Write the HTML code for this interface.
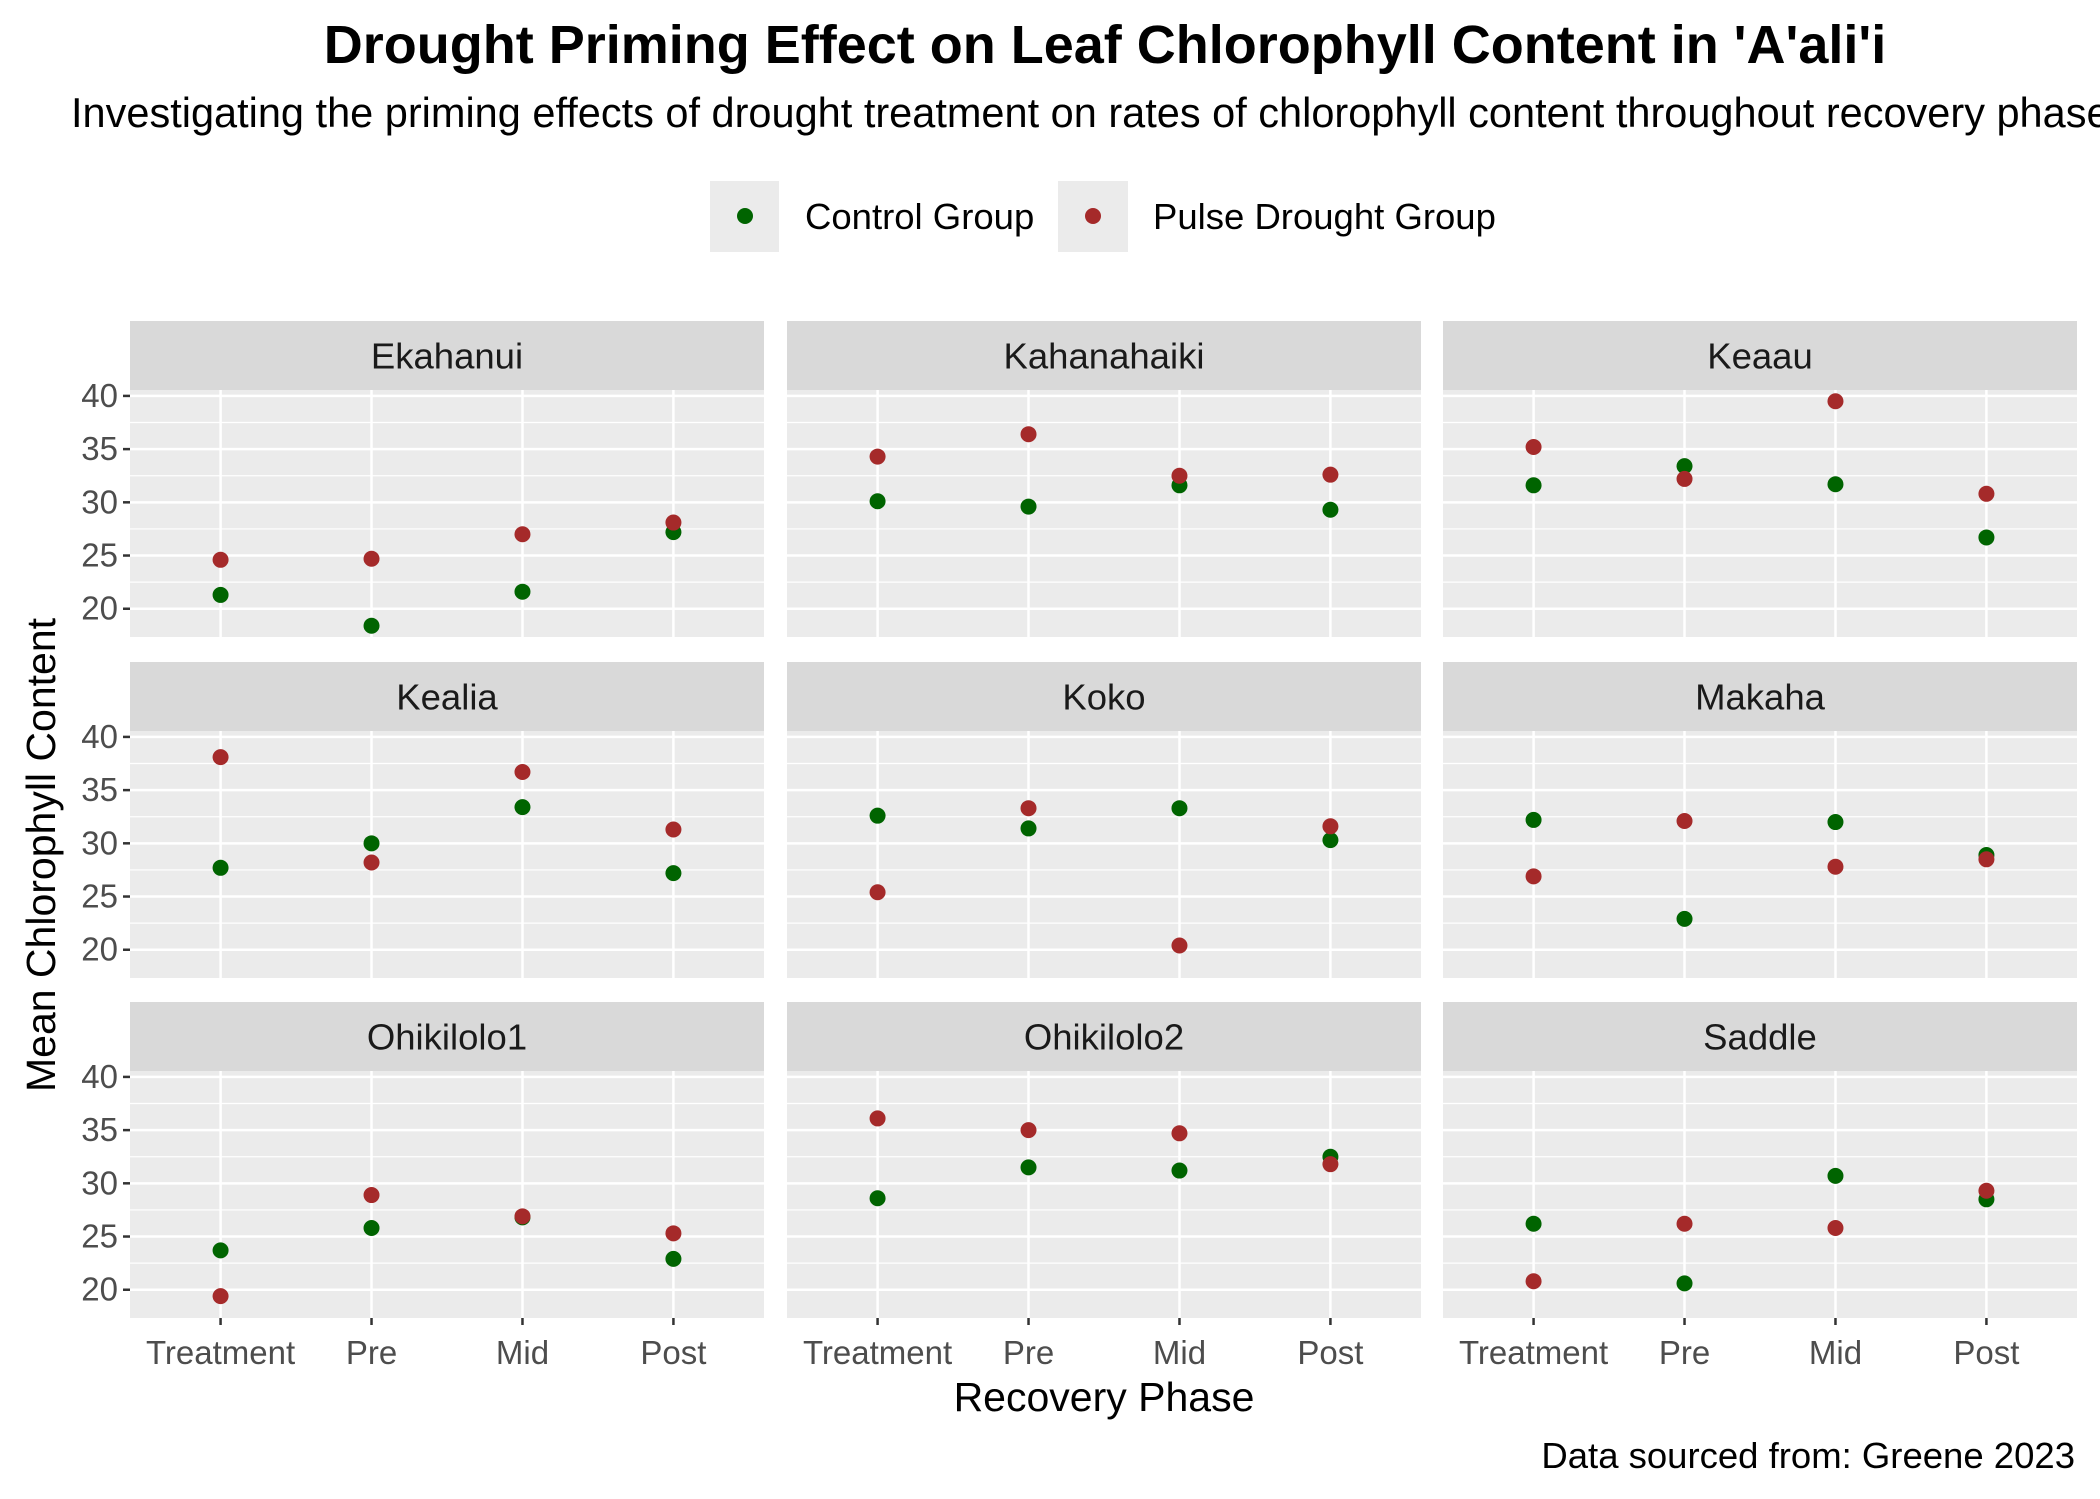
<!DOCTYPE html>
<html><head><meta charset="utf-8"><style>
body{margin:0;background:#fff;}
svg{display:block;font-family:"Liberation Sans",Arial,sans-serif;}
</style></head><body>
<svg id="chart" width="2100" height="1499" viewBox="0 0 2100 1499" xmlns="http://www.w3.org/2000/svg">
<rect width="2100" height="1499" fill="#fff"/>
<text x="1105" y="63" text-anchor="middle" font-size="54" font-weight="bold" fill="#000">Drought Priming Effect on Leaf Chlorophyll Content in 'A'ali'i</text>
<text x="71" y="127" font-size="41.5" fill="#000">Investigating the priming effects of drought treatment on rates of chlorophyll content throughout recovery phase</text>
<g>
<rect x="710" y="181" width="69" height="71" fill="#EBEBEB"/>
<circle cx="745" cy="216" r="8" fill="#006400"/>
<text x="805" y="229" font-size="36.5" fill="#000">Control Group</text>
<rect x="1058" y="181" width="70" height="71" fill="#EBEBEB"/>
<circle cx="1093" cy="216" r="8" fill="#A52A2A"/>
<text x="1153" y="229" font-size="36.5" fill="#000">Pulse Drought Group</text>
</g>
<g id="panels"></g>
<text x="1104" y="1411" text-anchor="middle" font-size="41" fill="#000">Recovery Phase</text>
<text transform="translate(55,855) rotate(-90)" text-anchor="middle" font-size="41" fill="#000">Mean Chlorophyll Content</text>
<text x="2075" y="1468" text-anchor="end" font-size="36.5" fill="#000">Data sourced from: Greene 2023</text>
</svg>
<script>
const sites = ["Ekahanui","Kahanahaiki","Keaau","Kealia","Koko","Makaha","Ohikilolo1","Ohikilolo2","Saddle"];
const phases = ["Treatment","Pre","Mid","Post"];
const controlValues = [
 [21.3,18.4,21.6,27.2],[30.1,29.6,31.6,29.3],[31.6,33.4,31.7,26.7],
 [27.7,30.0,33.4,27.2],[32.6,31.4,33.3,30.3],[32.2,22.9,32.0,28.9],
 [23.7,25.8,26.8,22.9],[28.6,31.5,31.2,32.5],[26.2,20.6,30.7,28.5]];
const pulseValues = [
 [24.6,24.7,27.0,28.1],[34.3,36.4,32.5,32.6],[35.2,32.2,39.5,30.8],
 [38.1,28.2,36.7,31.3],[25.4,33.3,20.4,31.6],[26.9,32.1,27.8,28.5],
 [19.4,28.9,26.9,25.3],[36.1,35.0,34.7,31.8],[20.8,26.2,25.8,29.3]];
const yTicks = [20,25,30,35,40];
const yMinor = [22.5,27.5,32.5,37.5];

const NS="http://www.w3.org/2000/svg";
const g=document.getElementById('panels');
const colX=[130,787,1443], W=634, stripH=69, panelH=247;
const rowY=[321,662,1002];
const all=controlValues.flat().concat(pulseValues.flat());
const dmin=Math.min(...all), dmax=Math.max(...all), pad=(dmax-dmin)*0.05;
const y0=dmin-pad, y1=dmax+pad;
function el(tag,attrs,parent){const e=document.createElementNS(NS,tag);for(const k in attrs)e.setAttribute(k,attrs[k]);(parent||g).appendChild(e);return e;}
sites.forEach((s,i)=>{
  const c=i%3, r=Math.floor(i/3);
  const px=colX[c], sy=rowY[r], py=sy+stripH;
  const sx=k=>px+W*(0.6+k)/(phases.length-1+1.2);
  const sy_=v=>py+panelH*(y1-v)/(y1-y0);
  const pg=el('g',{});
  
  
  const strip=el('rect',{x:px,y:sy,width:W,height:stripH,fill:'#D9D9D9'},pg);
  
  
  const st=el('text',{x:px+W/2,y:sy+stripH/2+13,'text-anchor':'middle','font-size':36.5,fill:'#1A1A1A'},pg);
  st.textContent=s;
  
  
  el('rect',{x:px,y:py,width:W,height:panelH,fill:'#EBEBEB'},pg);
  yMinor.forEach(v=>el('line',{x1:px,x2:px+W,y1:sy_(v),y2:sy_(v),stroke:'#fff','stroke-width':1.2},pg));
  yTicks.forEach(v=>el('line',{x1:px,x2:px+W,y1:sy_(v),y2:sy_(v),stroke:'#fff','stroke-width':2.5},pg));
  phases.forEach((p,k)=>el('line',{x1:sx(k),x2:sx(k),y1:py,y2:py+panelH,stroke:'#fff','stroke-width':2.5},pg));
  if(c===0){
    yTicks.forEach(v=>{
      el('line',{x1:px-7,x2:px,y1:sy_(v),y2:sy_(v),stroke:'#333','stroke-width':2.5},pg);
      const t=el('text',{x:px-12,y:sy_(v)+11,'text-anchor':'end','font-size':33,fill:'#4D4D4D'},pg);
      t.textContent=v;
      
      
    });
  }
  if(r===2){
    phases.forEach((p,k)=>{
      el('line',{x1:sx(k),x2:sx(k),y1:py+panelH,y2:py+panelH+7,stroke:'#333','stroke-width':2.5},pg);
      const t=el('text',{x:sx(k),y:1364,'text-anchor':'middle','font-size':33,fill:'#4D4D4D'},pg);
      t.textContent=p;
      
      
    });
  }
  controlValues[i].forEach((v,k)=>{
    const p=el('circle',{cx:sx(k),cy:sy_(v),r:8,fill:'#006400'},pg);
    
    
  });
  pulseValues[i].forEach((v,k)=>{
    const p=el('circle',{cx:sx(k),cy:sy_(v),r:8,fill:'#A52A2A'},pg);
    
    
  });
});
</script>
</body></html>
